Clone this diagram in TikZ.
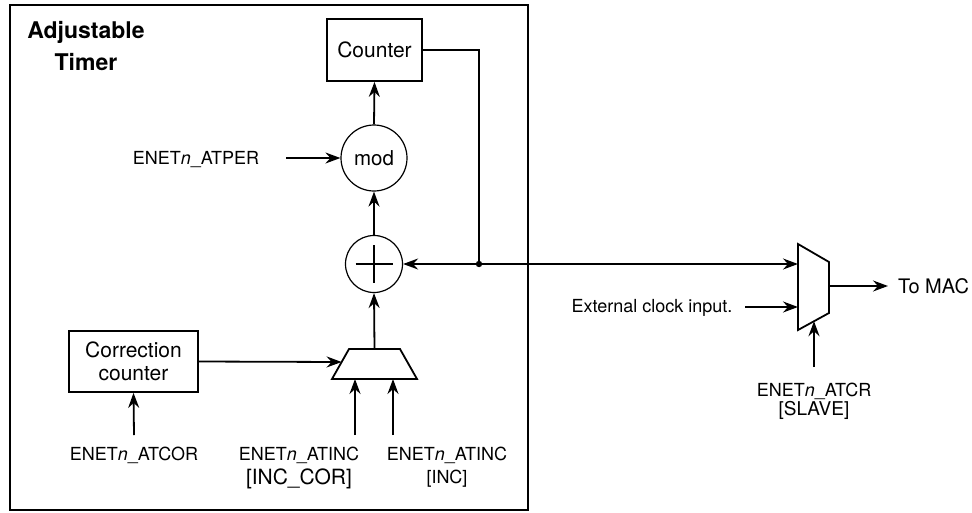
\documentclass[tikz,border=0pt]{standalone}
\usepackage{fontspec}
\setmainfont{TeX Gyre Heros}
\usetikzlibrary{arrows.meta}
\begin{document}
\begin{tikzpicture}[x=1pt,y=-1pt,
  wire/.style={line width=1.8pt},
  arr/.style={wire,-{Stealth[length=15pt,width=11pt,inset=5pt]}},
  box/.style={draw,line width=1.8pt,inner sep=0,align=center,font=\fontsize{21}{23}\selectfont},
  circ/.style={draw,circle,line width=1.2pt,inner sep=0},
  lbl/.style={inner sep=0,text height=13pt,text depth=0pt,font=\fontsize{18}{20}\selectfont},
  lblbig/.style={inner sep=0,text height=15pt,text depth=0pt,font=\fontsize{21}{23}\selectfont},
  titl/.style={inner sep=0,text height=16.5pt,text depth=0pt,font=\fontsize{23}{25}\selectfont\bfseries}]
\useasboundingbox (0,0) rectangle (972,512);
% outer box
\node[draw,line width=2.2pt,minimum width=518,minimum height=505,inner sep=0] (timer) at (269,257.5) {};
\node[titl] (t1) at (86,30) {Adjustable};
\node[titl] (t2) at (86,62) {Timer};
% blocks
\node[box,minimum width=95,minimum height=62] (counter) at (374.5,50) {Counter};
\node[circ,minimum size=66,font=\fontsize{20.5}{22}\selectfont] (mod) at (374,158) {mod};
\node[circ,minimum size=57] (plus) at (374,264) {};
\draw[wire] (plus.center) ++(-18.5,0) -- ++(37,0);
\draw[wire] (plus.center) ++(0,-19) -- ++(0,38);
\node[box,minimum width=129,minimum height=61] (corr) at (133.5,361.5) {Correction\\counter};
% trapezoid mux
\coordinate (m1tl) at (349,349);
\coordinate (m1tr) at (400,349);
\coordinate (m1br) at (417,379);
\coordinate (m1bl) at (332,379);
\coordinate (m1out) at (374.5,349);
\coordinate (m1in) at (341.6,362);
\coordinate (m1s1) at (355,379);
\coordinate (m1s2) at (393,379);
\draw[wire,line join=miter] (m1tl) -- (m1tr) -- (m1br) -- (m1bl) -- cycle;
% right mux
\coordinate (m2a) at (798,244);
\coordinate (m2b) at (829,262);
\coordinate (m2c) at (829,313);
\coordinate (m2d) at (798,330);
\coordinate (m2in1) at (798,264);
\coordinate (m2in2) at (798,307);
\coordinate (m2out) at (829,286);
\coordinate (m2sel) at (814,321.2);
\draw[wire,line join=miter] (m2a) -- (m2b) -- (m2c) -- (m2d) -- cycle;
% labels
\node[lbl] (atper) at (196,158) {ENET\textit{n}\_ATPER};
\node[lbl] (atcor) at (134,454) {ENET\textit{n}\_ATCOR};
\node[lbl] (atinc1) at (299,454) {ENET\textit{n}\_ATINC};
\node[lblbig] (inccor) at (299,477) {[INC\_COR]};
\node[lbl] (atinc2) at (447,454) {ENET\textit{n}\_ATINC};
\node[lbl] (inc) at (447,477) {[INC]};
\node[lbl] (ext) at (652,306) {External clock input.};
\node[lbl] (atcr) at (814,390) {ENET\textit{n}\_ATCR};
\node[lbl,font=\fontsize{19}{21}\selectfont] (slave) at (814,409) {[SLAVE]};
\node[lbl,font=\fontsize{20}{22}\selectfont,text height=14.4pt] (mac) at (933.5,286) {To MAC};
% free ends
\coordinate (perS) at (286,158);
\coordinate (corS) at (134,435);
\coordinate (inc1S) at (355,435);
\coordinate (inc2S) at (393,435);
\coordinate (extS) at (745,307);
\coordinate (selS) at (814,367);
\coordinate (macE) at (888,286);
\coordinate (fb) at (479,50);
\coordinate (dot) at (479,264);
% connectors
\draw[arr] (mod.north) -- (counter.south);
\draw[arr] (perS) -- (mod.west);
\draw[arr] (plus.north) -- (mod.south);
\draw[arr] (m1out) -- (plus.south);
\draw[arr] (corr.east) -- (m1in);
\draw[arr] (corS) -- (corr.south);
\draw[arr] (inc1S) -- (m1s1);
\draw[arr] (inc2S) -- (m1s2);
\draw[wire] (counter.east) -- (fb) -- (dot);
\fill (dot) circle (3.2);
\draw[arr] (dot) -- (plus.east);
\draw[arr] (dot) -- (m2in1);
\draw[arr] (extS) -- (m2in2);
\draw[arr] (selS) -- (m2sel);
\draw[arr] (m2out) -- (macE);
\end{tikzpicture}
\end{document}
